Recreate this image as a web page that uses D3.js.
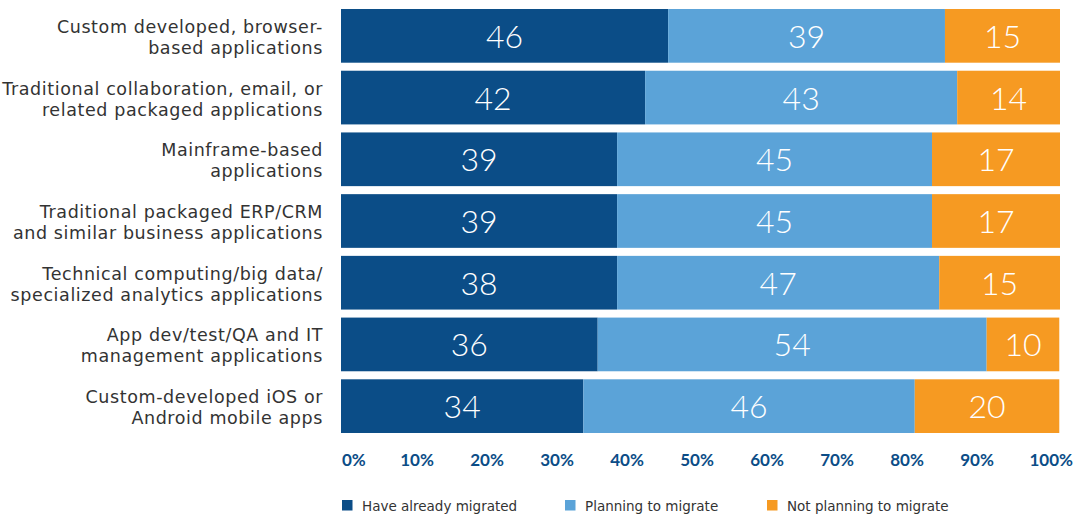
<!DOCTYPE html>
<html>
<head>
<meta charset="utf-8">
<script src="https://cdn.jsdelivr.net/npm/d3@7"></script>
<style>
  html, body { margin: 0; padding: 0; background: #fff; }
  svg { display: block; }
</style>
</head>
<body>
<svg id="chart" width="1083" height="515"></svg>
<script>
// ---- data ----
const categories = [
  ["Custom developed, browser-", "based applications"],
  ["Traditional collaboration, email, or", "related packaged applications"],
  ["Mainframe-based", "applications"],
  ["Traditional packaged ERP/CRM", "and similar business applications"],
  ["Technical computing/big data/", "specialized analytics applications"],
  ["App dev/test/QA and IT", "management applications"],
  ["Custom-developed iOS or", "Android mobile apps"]
];
const seriesNames = ["Have already migrated", "Planning to migrate", "Not planning to migrate"];
// segment widths as drawn (percent)
const alreadyMigrated = [45.5, 42.3, 38.4, 38.4, 38.4, 35.7, 33.7];
const planningMigrate = [38.5, 43.4, 43.8, 43.8, 44.8, 54.1, 46.1];
const notPlanning     = [16.0, 14.3, 17.8, 17.8, 16.8, 10.1, 20.1];
// printed labels
const alreadyLabels  = [46, 42, 39, 39, 38, 36, 34];
const planningLabels = [39, 43, 45, 45, 47, 54, 46];
const notLabels      = [15, 14, 17, 17, 15, 10, 20];
const tickValues = [0, 10, 20, 30, 40, 50, 60, 70, 80, 90, 100];
const colors = ["#0b4d87", "#5ba3d8", "#f69a22"];

// ---- scales ----
const svg = d3.select("#chart");
const x = d3.scaleLinear().domain([0, 100]).range([341, 1060]);
const y = d3.scaleBand().domain(d3.range(categories.length)).range([5, 437])
  .paddingInner(0.13).paddingOuter(0.065);

const rows = categories.map((c, i) => ({
  i,
  vals: [alreadyMigrated[i], planningMigrate[i], notPlanning[i]],
  labels: [alreadyLabels[i], planningLabels[i], notLabels[i]]
}));

const font = "Lato, 'Open Sans', sans-serif";
const textFont = "'DejaVu Sans', 'Open Sans', sans-serif";

// bars
rows.forEach(r => {
  let acc = 0;
  const segs = r.vals.map((v, k) => {
    const s = { x0: acc, x1: acc + v, k, label: r.labels[k] };
    acc += v;
    return s;
  });
  const g = svg.append("g");
  g.selectAll("rect").data(segs).join("rect")
    .attr("x", d => x(d.x0))
    .attr("width", d => Math.min(x(d.x1), x(100)) - x(d.x0))
    .attr("y", y(r.i))
    .attr("height", y.bandwidth())
    .attr("fill", d => colors[d.k]);
  g.selectAll("text").data(segs).join("text")
    .attr("x", d => (x(d.x0) + Math.min(x(d.x1), x(100))) / 2)
    .attr("y", y(r.i) + y.bandwidth() / 2 + 12)
    .attr("text-anchor", "middle")
    .attr("fill", "#fff")
    .attr("font-family", font)
    .attr("font-weight", 300)
    .attr("font-size", 32)
    .text(d => d.label);
});

// category labels
svg.append("g").selectAll("text").data(rows).join("text")
  .attr("text-anchor", "end")
  .attr("font-family", textFont)
  .attr("font-size", 17.5)
  .attr("letter-spacing", 0.6)
  .attr("fill", "#333")
  .each(function(r) {
    const t = d3.select(this);
    const cy = y(r.i) + y.bandwidth() / 2;
    categories[r.i].forEach((line, j) => {
      t.append("tspan").attr("x", 323).attr("y", cy - 3 + j * 21).text(line);
    });
  });

// x axis labels
const labelX = d3.scaleLinear().domain([0, 100]).range([347, 1047]);
svg.append("g").selectAll("text").data(tickValues).join("text")
  .attr("x", d => d === 0 ? x(0) + 1 : d === 100 ? 1073 : labelX(d))
  .attr("y", 466)
  .attr("text-anchor", d => d === 0 ? "start" : d === 100 ? "end" : "middle")
  .attr("font-family", font)
  .attr("font-weight", 700)
  .attr("font-size", 17)
  .attr("fill", "#0b4d87")
  .text(d => d + "%");

// legend
const legendX = [342, 565, 767];
const lg = svg.append("g").selectAll("g").data(seriesNames).join("g")
  .attr("transform", (d, i) => `translate(${legendX[i]},500)`);
lg.append("rect").attr("width", 10.5).attr("height", 10.5).attr("fill", (d, i) => colors[i]);
lg.append("text").attr("x", 20).attr("y", 11).attr("font-family", textFont)
  .attr("font-size", 13.5).attr("fill", "#333").text(d => d);
</script>
</body>
</html>
